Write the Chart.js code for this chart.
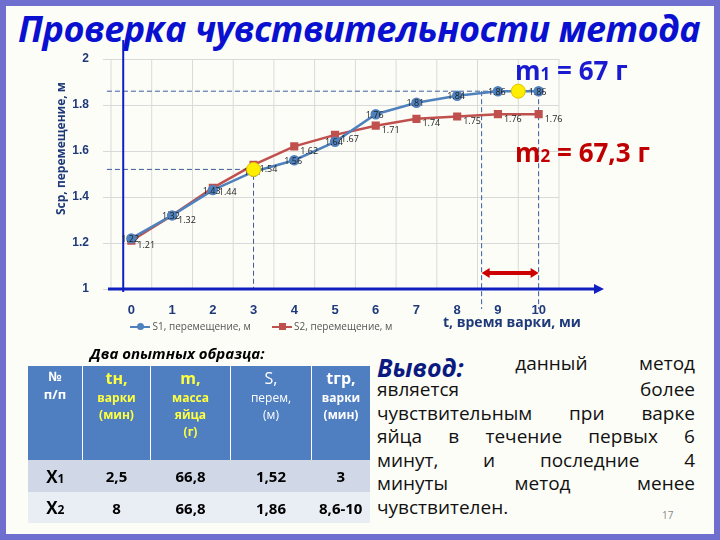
<!DOCTYPE html>
<html><head><meta charset="utf-8">
<script src="https://cdn.jsdelivr.net/npm/chart.js@4"></script>
<style>
body{margin:0;width:720px;height:540px;overflow:hidden;font-family:"Open Sans",sans-serif;}
#slide{position:absolute;left:0;top:0;width:708px;height:528px;border:6px solid #6f6fd0;background:#fdfdf8;}
.abs{position:absolute;}
table{border-collapse:collapse;}
td{text-align:center;color:#000;font-family:"Open Sans",sans-serif;}
.ln{display:flex;justify-content:space-between;height:23.5px;white-space:nowrap}
</style></head><body>
<div id="slide"></div>
<div class="abs" style="left:18px;top:4px;font:italic bold 36px 'Open Sans';color:#0a10d0;letter-spacing:-0.5px;white-space:nowrap">Проверка чувствительности метода</div>
<div class="abs" style="left:0;top:0;width:720px;height:350px"><canvas id="c" width="720" height="350"></canvas></div>
<div class="abs" style="left:52px;top:215px;transform:rotate(-90deg);transform-origin:0 0;font:bold 12px 'Open Sans';color:#1f3a7a;white-space:nowrap">Scp, перемещение, м</div>
<div class="abs" style="left:515px;top:52px;font:bold 26px 'Open Sans';color:#1a1ad0;white-space:nowrap">m<span style="font-size:17px">1</span> = 67 г</div>
<div class="abs" style="left:515px;top:134px;font:bold 26px 'Open Sans';color:#c00000;white-space:nowrap">m<span style="font-size:17px">2</span> = 67,3 г</div>
<div class="abs" style="left:443px;top:312px;font:bold 14px 'Open Sans';color:#1f3a7a;white-space:nowrap">t, время варки, ми</div>
<div class="abs" style="left:130px;top:319px;font:10px 'Open Sans';color:#555;white-space:nowrap">
<span style="display:inline-block;width:20px;height:2px;background:#4f81bd;vertical-align:middle;position:relative"><span style="position:absolute;left:7px;top:-3px;width:7px;height:7px;border-radius:50%;background:#4f81bd"></span></span> S1, перемещение, м
<span style="display:inline-block;width:20px;height:2px;background:#c0504d;vertical-align:middle;margin-left:18px;position:relative"><span style="position:absolute;left:7px;top:-3px;width:7px;height:7px;background:#c0504d"></span></span> S2, перемещение, м</div>
<div class="abs" style="left:90px;top:343px;font:italic bold 15px 'Open Sans';color:#000;white-space:nowrap">Два опытных образца:</div>
<table class="abs" style="left:28px;top:366px;width:342px;">
<tr style="background:#4f7fc0;height:94px;vertical-align:top">
<td style="width:52px;color:#fff;font:bold 13px 'Open Sans';border-right:1px solid #fff">№<br>п/п</td>
<td style="width:65px;color:#ffff40;font:bold 12px 'Open Sans';border-right:1px solid #fff"><span style="font-size:16px">tн,</span><br>варки<br>(мин)</td>
<td style="width:77px;color:#ffff40;font:bold 12px 'Open Sans';border-right:1px solid #fff"><span style="font-size:16px">m,</span><br>масса<br>яйца<br>(г)</td>
<td style="width:78px;color:#fff;font:12px 'Open Sans';border-right:1px solid #fff"><span style="font-size:16px">S,</span><br>перем,<br>(м)</td>
<td style="color:#fff;font:bold 12px 'Open Sans'"><span style="font-size:16px">tгр,</span><br>варки<br>(мин)</td></tr>
<tr style="background:#d0d8e8;height:32px;font:bold 15px 'Open Sans'"><td style="font-size:17px">X<span style="font-size:12px">1</span></td><td>2,5</td><td>66,8</td><td>1,52</td><td>3</td></tr>
<tr style="background:#e9edf4;height:31px;font:bold 15px 'Open Sans'"><td style="font-size:17px">X<span style="font-size:12px">2</span></td><td>8</td><td>66,8</td><td>1,86</td><td>8,6-10</td></tr>
</table>
<div class="abs" style="left:377px;top:350px;width:318px;font:19px 'Open Sans';color:#111;">
<div class="ln" style="height:26px"><span style="font:italic bold 25px 'Open Sans';color:#0a1a80">Вывод:</span><span>данный</span><span>метод</span></div>
<div class="ln"><span>является</span><span>более</span></div>
<div class="ln"><span>чувствительным</span><span>при</span><span>варке</span></div>
<div class="ln"><span>яйца</span><span>в</span><span>течение</span><span>первых</span><span>6</span></div>
<div class="ln"><span>минут,</span><span>и</span><span>последние</span><span>4</span></div>
<div class="ln"><span>минуты</span><span>метод</span><span>менее</span></div>
<div class="ln"><span>чувствителен.</span></div>
</div>
<div class="abs" style="left:662px;top:508px;font:10px 'Open Sans';color:#888">17</div>
<script>
const times=[0,1,2,3,4,5,6,7,8,9,10];
const s1=[1.22,1.32,1.43,1.51,1.56,1.64,1.76,1.81,1.84,1.86,1.86];
const s2=[1.21,1.32,1.44,1.54,1.62,1.67,1.71,1.74,1.75,1.76,1.76];
const yTicks=[1,1.2,1.4,1.6,1.8,2];
const markT=[3,8.6,10], markS=[1.52,1.86], yellow=[{x:3,y:1.52},{x:9.5,y:1.86}];
const deco={id:'deco',
beforeDatasetsDraw(ch){const c=ch.ctx,x=ch.scales.x,y=ch.scales.y,a=ch.chartArea;
 c.save();c.strokeStyle='#d9d9d9';c.lineWidth=1;
 for(let v=-0.5;v<=10.51;v++){c.beginPath();c.moveTo(x.getPixelForValue(v),a.top);c.lineTo(x.getPixelForValue(v),a.bottom);c.stroke();}
 c.setLineDash([5,3]);c.strokeStyle='#3a5a9a';
 const L=x.getPixelForValue(-0.6);
 c.beginPath();c.moveTo(L,y.getPixelForValue(markS[1]));c.lineTo(x.getPixelForValue(10),y.getPixelForValue(markS[1]));c.stroke();
 c.beginPath();c.moveTo(L,y.getPixelForValue(markS[0]));c.lineTo(x.getPixelForValue(3),y.getPixelForValue(markS[0]));c.lineTo(x.getPixelForValue(3),y.getPixelForValue(1));c.stroke();
 [8.6,10].forEach(t=>{c.beginPath();c.moveTo(x.getPixelForValue(t),y.getPixelForValue(markS[1]));c.lineTo(x.getPixelForValue(t),y.getPixelForValue(1)+20);c.stroke();});
 c.setLineDash([]);
 c.strokeStyle='#1020c0';c.fillStyle='#1020c0';c.lineWidth=3;
 const y1=y.getPixelForValue(1),x0=x.getPixelForValue(-0.2);
 c.beginPath();c.moveTo(a.left-3,y1);c.lineTo(597,y1);c.stroke();
 c.beginPath();c.moveTo(604,y1);c.lineTo(594,y1-5);c.lineTo(594,y1+5);c.fill();
 c.lineWidth=2;c.beginPath();c.moveTo(x0,y1+3);c.lineTo(x0,40);c.stroke();
 const ya=y.getPixelForValue(1.07),xa=x.getPixelForValue(8.6),xb=x.getPixelForValue(10);
 c.strokeStyle='#cc0000';c.fillStyle='#cc0000';c.lineWidth=4;
 c.beginPath();c.moveTo(xa+6,ya);c.lineTo(xb-6,ya);c.stroke();
 c.beginPath();c.moveTo(xa,ya);c.lineTo(xa+8,ya-5);c.lineTo(xa+8,ya+5);c.fill();
 c.beginPath();c.moveTo(xb,ya);c.lineTo(xb-8,ya-5);c.lineTo(xb-8,ya+5);c.fill();
 c.restore();},
afterDatasetsDraw(ch){const c=ch.ctx,x=ch.scales.x,y=ch.scales.y;
 c.save();c.font='9px "Open Sans"';c.fillStyle='#222';c.textBaseline='middle';
 times.forEach((t,i)=>{c.fillText(String(s1[i]),x.getPixelForValue(t)-10,y.getPixelForValue(s1[i])+1);
  c.fillText(String(s2[i]),x.getPixelForValue(t)+6,y.getPixelForValue(s2[i])+5);});
 yellow.forEach(p=>{c.beginPath();c.arc(x.getPixelForValue(p.x),y.getPixelForValue(p.y),7,0,7);c.fillStyle='#ffee00';c.fill();c.strokeStyle='#e0c000';c.stroke();});
 c.restore();}};
new Chart(document.getElementById('c'),{type:'line',
data:{datasets:[
 {label:'S1, перемещение, м',data:times.map((t,i)=>({x:t,y:s1[i]})),borderColor:'#4f81bd',backgroundColor:'#4f81bd',pointRadius:4,borderWidth:2.5,pointStyle:'circle'},
 {label:'S2, перемещение, м',data:times.map((t,i)=>({x:t,y:s2[i]})),borderColor:'#c0504d',backgroundColor:'#c0504d',pointRadius:4,borderWidth:2.5,pointStyle:'rect'}]},
options:{responsive:false,animation:false,layout:{padding:{left:60,top:59,right:161,bottom:0}},
 plugins:{legend:{display:false},tooltip:{enabled:false}},
 scales:{
  x:{type:'linear',min:-0.5,max:10.5,grid:{display:false},border:{display:false},afterBuildTicks:s=>{s.ticks=times.map(v=>({value:v}))},
     ticks:{font:{size:13,weight:'bold'},color:'#1f3a7a',padding:6},afterFit:s=>{s.height=61}},
  y:{min:1,max:2,grid:{color:'#d9d9d9'},border:{display:false},afterBuildTicks:s=>{s.ticks=yTicks.map(v=>({value:v}))},
     ticks:{font:{size:12,weight:'bold'},color:'#1f3a7a',padding:14,callback:v=>String(+v.toFixed(1))},afterFit:s=>{s.width=51}}}},
plugins:[deco]});
</script></body></html>
